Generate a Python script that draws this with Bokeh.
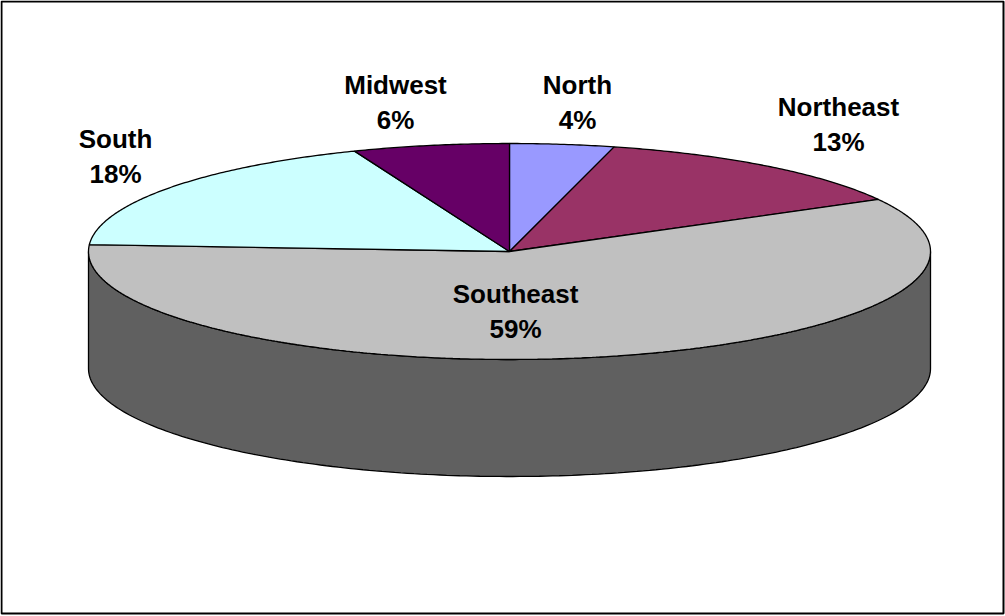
import numpy as np
from bokeh.plotting import figure
from bokeh.models import Range1d, ColumnDataSource
from bokeh.core.properties import value
from bokeh.embed import file_html
from bokeh.resources import INLINE

# ---- data ----
regions = ["North", "Northeast", "Southeast", "South", "Midwest"]
shares = [4, 13, 59, 18, 6]
colors = ["#9999FF", "#993366", "#C0C0C0", "#CCFFFF", "#660066"]
side_color = "#606060"

# ---- layout (pixel-like coordinates, y downwards) ----
CX, CY = 509.0, 251.0
RX, RY = 421.0, 108.0
DEPTH = 117.0
label_pos = {
    "North": (577, 84),
    "Northeast": (838, 106),
    "Southeast": (515, 293),
    "South": (115, 138),
    "Midwest": (395, 84),
}
LINE_GAP = 35.5

def ell(theta_deg, dy=0.0):
    t = np.radians(theta_deg)
    return CX + RX * np.sin(t), CY - RY * np.cos(t) + dy

p = figure(width=1005, height=616, x_range=Range1d(0, 1005), y_range=Range1d(616, 0),
           output_backend="svg", toolbar_location=None, min_border=0)
p.axis.visible = False
p.grid.visible = False
p.outline_line_color = None
p.background_fill_color = "white"
p.border_fill_color = "white"

# frame
p.patch([1, 1003, 1003, 1], [1, 1, 613, 613], fill_color=None, line_color="black", line_width=2)

# side wall (front half of the cylinder)
th = np.linspace(90, 270, 200)
tx, ty = ell(th)
bx, by = ell(th[::-1], DEPTH)
p.patch(list(tx) + list(bx), list(ty) + list(by), fill_color=side_color,
        line_color="black", line_width=1.3)

# top slices
total = float(sum(shares))
xs, ys = [], []
start = 0.0
for s in shares:
    end = start + 360.0 * s / total
    a = np.linspace(start, end, max(4, int((end - start) * 2)))
    ex, ey = ell(a)
    xs.append([CX] + list(ex))
    ys.append([CY] + list(ey))
    start = end
p.patches(xs, ys, fill_color=colors, line_color="black", line_width=1.3)

# labels
lx, ly, lt = [], [], []
for r, s in zip(regions, shares):
    x, y = label_pos[r]
    lx += [x, x]
    ly += [y, y + LINE_GAP]
    lt += [r, f"{s}%"]
src = ColumnDataSource(dict(x=lx, y=ly, t=lt))
p.text("x", "y", text="t", source=src, text_font=value("Liberation Sans"),
       text_font_style="bold", text_font_size="26px", text_align="center",
       text_baseline="middle", text_color="black")

open("out.html", "w").write(file_html(p, INLINE))
